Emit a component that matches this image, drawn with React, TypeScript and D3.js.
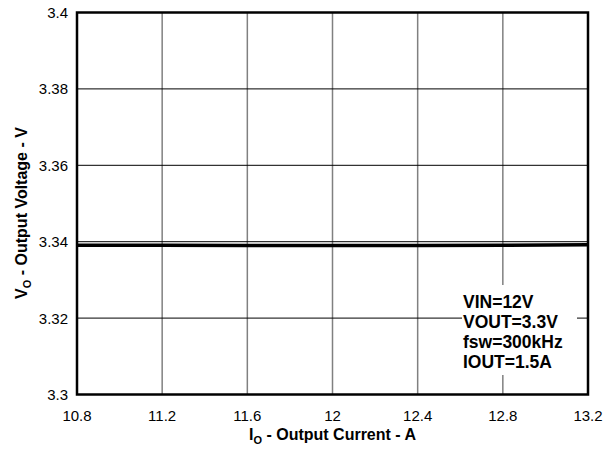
import React from "react";
import * as d3 from "d3";

const xTicks = [10.8, 11.2, 11.6, 12, 12.4, 12.8, 13.2];
const yTicks = [3.3, 3.32, 3.34, 3.36, 3.38, 3.4];
const yTickLabels = ["3.3", "3.32", "3.34", "3.36", "3.38", "3.4"];
const xTickLabels = ["10.8", "11.2", "11.6", "12", "12.4", "12.8", "13.2"];
const currentA = [10.8, 11.2, 11.6, 12, 12.4, 12.8, 13.2];
const voltageV = [3.3391, 3.33905, 3.3390, 3.3390, 3.3390, 3.33905, 3.3392];
const notes = ["VIN=12V", "VOUT=3.3V", "fsw=300kHz", "IOUT=1.5A"];

export default function App() {
  const W = 613, H = 450;
  const L = 77, R = 588, T = 12.5, B = 394.5;
  const x = d3.scaleLinear().domain([10.8, 13.2]).range([L, R]);
  const y = d3.scaleLinear().domain([3.3, 3.4]).range([B, T]);
  const line = d3.line<number>().x((_, i) => x(currentA[i])).y((d) => y(d));
  const font = "'Liberation Sans', Arial, sans-serif";
  return (
    <svg width={W} height={H} style={{ position: "absolute", left: 0, top: 0, background: "#fff" }} fontFamily={font}>
      {xTicks.slice(1, -1).map((t) => (
        <line key={"vx" + t} x1={x(t)} x2={x(t)} y1={T} y2={B} stroke="#808080" strokeWidth={1.5} />
      ))}
      {yTicks.slice(1, -1).map((t) => (
        <line key={"hy" + t} x1={L} x2={R} y1={y(t)} y2={y(t)} stroke="#000" strokeWidth={1} />
      ))}
      <rect x={462} y={285} width={115} height={90} fill="#fff" />
      {notes.map((n, i) => (
        <text key={n} x={463} y={308 + i * 20} fontSize={17.5} fontWeight="bold">{n}</text>
      ))}
      <path d={line(voltageV) || ""} fill="none" stroke="#000" strokeWidth={3.5} />
      <rect x={L} y={T} width={R - L} height={B - T} fill="none" stroke="#000" strokeWidth={2.5} />
      {yTicks.map((t, i) => (
        <text key={"yl" + t} x={68} y={y(t) + 5.5} fontSize={15} textAnchor="end">{yTickLabels[i]}</text>
      ))}
      {xTicks.map((t, i) => (
        <text key={"xl" + t} x={x(t)} y={421} fontSize={15} textAnchor="middle">{xTickLabels[i]}</text>
      ))}
      <text x={(L + R) / 2} y={440} fontSize={16} fontWeight="bold" textAnchor="middle">
        I<tspan dy={4} fontSize={11}>O</tspan><tspan dy={-4}> - Output Current - A</tspan>
      </text>
      <text transform={`translate(27,213) rotate(-90)`} fontSize={16} fontWeight="bold" textAnchor="middle">
        V<tspan dy={4} fontSize={11}>O</tspan><tspan dy={-4}> - Output Voltage - V</tspan>
      </text>
    </svg>
  );
}
